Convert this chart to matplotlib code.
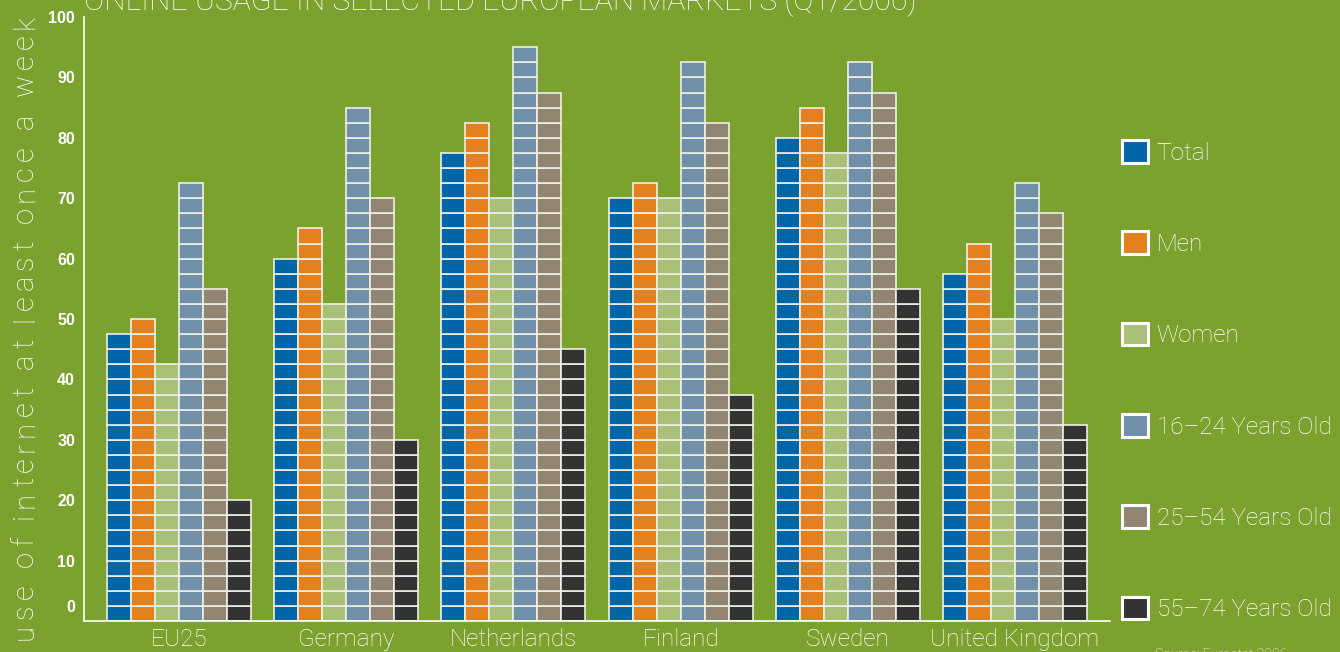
import matplotlib
matplotlib.use("Agg")
import matplotlib.pyplot as plt
from matplotlib.patches import Patch
from matplotlib.font_manager import FontProperties
import numpy as np

countries = ["EU25", "Germany", "Netherlands", "Finland", "Sweden", "United Kingdom"]
series_names = ["Total", "Men", "Women", "16\u201324 Years Old", "25\u201354 Years Old", "55\u201374 Years Old"]
total = [47.5, 60, 77.5, 70, 80, 57.5]
men = [50, 65, 82.5, 72.5, 85, 62.5]
women = [42.5, 52.5, 70, 70, 77.5, 50]
age_16_24 = [72.5, 85, 95, 92.5, 92.5, 72.5]
age_25_54 = [55, 70, 87.5, 82.5, 87.5, 67.5]
age_55_74 = [20, 30, 45, 37.5, 55, 32.5]
cell_size = 2.5
yticks = [0, 10, 20, 30, 40, 50, 60, 70, 80, 90, 100]
title = "ONLINE USAGE IN SELECTED EUROPEAN MARKETS (Q1/2006)"
ylabel = "use of internet at least once a week"
source = "Source: Eurostat 2006"

colors = ["#0066a8", "#e5801e", "#a8c077", "#7090aa", "#928672", "#333333"]
bg = "#7ba12f"
edge = "#eef0e6"
light = ["Roboto", "DejaVu Sans"]

data = [total, men, women, age_16_24, age_25_54, age_55_74]

fig = plt.figure(figsize=(13.4, 6.52), dpi=100, facecolor=bg)
ax = fig.add_axes([84/1340, 31/652, 1026/1340, 604/652])
ax.set_facecolor(bg)

w = 0.1435
x0 = np.arange(len(countries))
for j, (vals, c) in enumerate(zip(data, colors)):
    xs, bots = [], []
    for i, v in enumerate(vals):
        n = int(round(v / cell_size))
        for k in range(n):
            xs.append(x0[i] + (j - 2.5) * w)
            bots.append(k * cell_size)
    ax.bar(xs, cell_size, bottom=bots, width=w, color=c, edgecolor=edge, linewidth=1.2, zorder=2)

ax.set_xlim(-0.568, len(countries) - 1 + 0.568)
ax.set_ylim(0, 100)
for s in ["top", "right"]:
    ax.spines[s].set_visible(False)
for s in ["left", "bottom"]:
    ax.spines[s].set_color("white")
    ax.spines[s].set_linewidth(1.2)

ax.set_yticks(yticks)
ax.set_yticklabels([str(t) if t != 0 else "" for t in yticks], color="white",
                   fontweight="bold", fontsize=11.5, family=["Liberation Sans", "DejaVu Sans"])
ax.annotate("0", xy=(0, 0), xycoords=("axes fraction", "data"), xytext=(-9, 14),
            textcoords="offset pixels", ha="right", va="center", color="white",
            fontweight="bold", fontsize=11.5, family=["Liberation Sans", "DejaVu Sans"])
ax.tick_params(axis="y", length=0, pad=6.5)
ax.set_xticks(x0)
ax.set_xticklabels(countries, color="white", fontsize=17.5, family=light, fontweight="light")
ax.tick_params(axis="x", length=0, pad=5)

# title
fig.text(84/1340, 1 - 10/652, title, color="white", fontsize=21.7, family=light,
         fontweight="light", ha="left", va="baseline")

# letter-spaced y label, placed character by character
renderer = fig.canvas.get_renderer()
prop = FontProperties(family=light, weight="light", size=21)
widths = []
for ch in ylabel:
    if ch == " ":
        widths.append(renderer.get_text_width_height_descent("a a", prop, ismath=False)[0]
                      - renderer.get_text_width_height_descent("aa", prop, ismath=False)[0])
    else:
        widths.append(renderer.get_text_width_height_descent(ch, prop, ismath=False)[0])
span = 625.0
track = (span - sum(widths)) / (len(ylabel) - 1)
pos = 652 - 640.0  # pixels from bottom
for ch, wd in zip(ylabel, widths):
    if ch != " ":
        fig.text(33/1340, pos/652, ch, rotation=90, rotation_mode="anchor", color="white",
                 fontproperties=prop, ha="left", va="baseline")
    pos += wd + track

handles = [Patch(facecolor=c, edgecolor="white", linewidth=2.2) for c in colors]
leg = fig.legend(handles, series_names, loc="upper left", bbox_to_anchor=(1122/1340, 1 - 140/652),
                 frameon=False, handlelength=1.07, handleheight=1.07,
                 labelspacing=2.74, handletextpad=0.35, borderpad=0, borderaxespad=0,
                 prop={"family": light, "weight": "light", "size": 17.5})
for t in leg.get_texts():
    t.set_color("white")

fig.text(1155/1340, 1 - 648/652, source, color="white", fontsize=10, family=light,
         fontweight="light", ha="left", va="top")

fig.savefig("out.png", dpi=100, facecolor=bg)
